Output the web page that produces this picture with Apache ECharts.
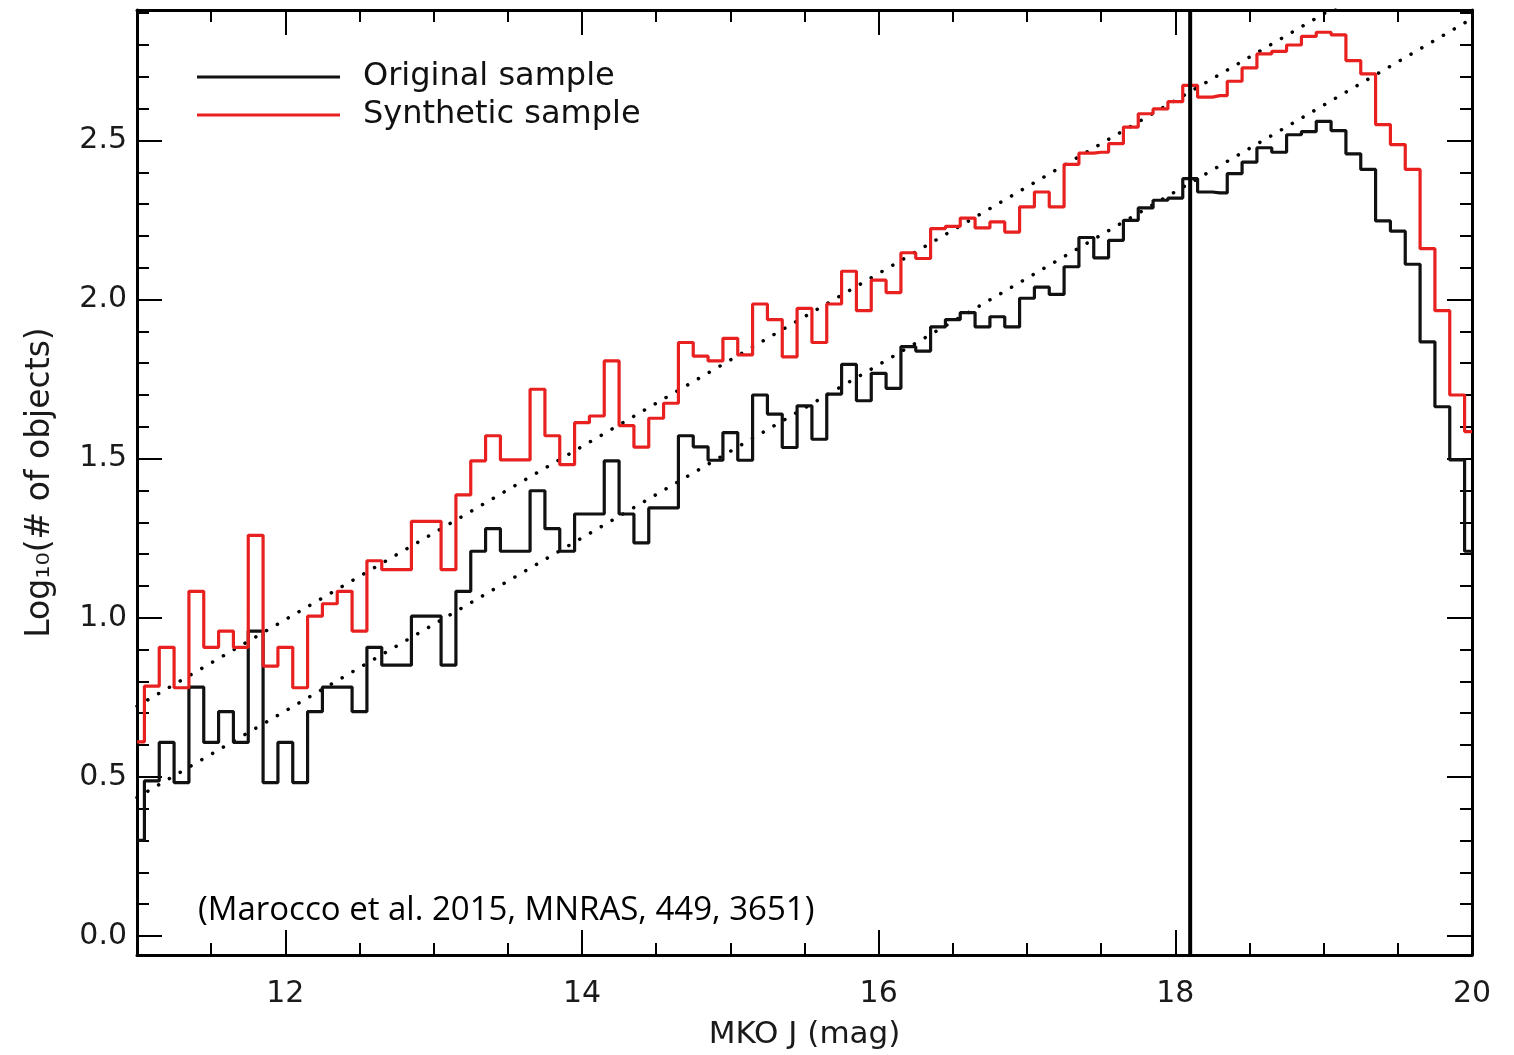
<!DOCTYPE html>
<html>
<head>
<meta charset="utf-8">
<script src="https://cdn.jsdelivr.net/npm/echarts@6/dist/echarts.min.js"></script>
<style>
html,body{margin:0;padding:0;background:#fff;}
#chart{width:1514px;height:1055px;}
</style>
</head>
<body>
<div id="chart"></div>
<script>
// ---- data ----
const binStart = 11.0;
const binWidth = 0.1;
const originalSample = [
  0.30, 0.487, 0.608, 0.482, 0.782, 0.608, 0.705, 0.608, 0.958, 0.482,
  0.608, 0.482, 0.705, 0.782, 0.782, 0.705, 0.907, 0.851, 0.851, 1.005,
  1.005, 0.851, 1.083, 1.209, 1.280, 1.209, 1.209, 1.399, 1.280, 1.209,
  1.326, 1.326, 1.493, 1.326, 1.235, 1.345, 1.345, 1.572, 1.537, 1.495,
  1.582, 1.495, 1.700, 1.640, 1.535, 1.666, 1.561, 1.703, 1.796, 1.682,
  1.768, 1.721, 1.852, 1.838, 1.914, 1.937, 1.959, 1.914, 1.946, 1.914,
  2.004, 2.039, 2.016, 2.103, 2.195, 2.131, 2.186, 2.249, 2.288, 2.312,
  2.319, 2.380, 2.338, 2.335, 2.396, 2.432, 2.477, 2.463, 2.518, 2.528,
  2.560, 2.531, 2.458, 2.409, 2.247, 2.215, 2.111, 1.867, 1.663, 1.496,
  1.209
];
const syntheticSample = [
  0.61, 0.785, 0.907, 0.780, 1.083, 0.907, 0.958, 0.907, 1.259, 0.848,
  0.907, 0.780, 1.005, 1.044, 1.083, 0.958, 1.179, 1.151, 1.151, 1.303,
  1.303, 1.151, 1.386, 1.493, 1.572, 1.496, 1.496, 1.718, 1.572, 1.481,
  1.613, 1.634, 1.807, 1.604, 1.536, 1.627, 1.674, 1.865, 1.822, 1.807,
  1.878, 1.826, 1.986, 1.937, 1.820, 1.972, 1.865, 1.986, 2.089, 1.965,
  2.061, 2.022, 2.147, 2.129, 2.223, 2.230, 2.256, 2.225, 2.244, 2.212,
  2.291, 2.338, 2.291, 2.425, 2.460, 2.463, 2.490, 2.542, 2.584, 2.599,
  2.622, 2.673, 2.636, 2.641, 2.686, 2.728, 2.772, 2.780, 2.800, 2.827,
  2.840, 2.832, 2.751, 2.709, 2.550, 2.487, 2.409, 2.160, 1.965, 1.700,
  1.585
];
const fitUpper = [[11, 0.722], [20, 3.17]];
const fitLower = [[11, 0.435], [20, 2.883]];
const cutoffMag = 18.1;
const xRange = [11, 20];
const yRange = [-0.06, 2.91];
const xMajorTicks = [12, 14, 16, 18, 20];
const xMinorTicks = [11.5, 12.5, 13, 13.5, 14.5, 15, 15.5, 16.5, 17, 17.5, 18.5, 19, 19.5];
const yMajorTicks = [0, 0.5, 1.0, 1.5, 2.0, 2.5];
const yMinorTicks = [0.1, 0.2, 0.3, 0.4, 0.6, 0.7, 0.8, 0.9, 1.1, 1.2, 1.3, 1.4,
  1.6, 1.7, 1.8, 1.9, 2.1, 2.2, 2.3, 2.4, 2.6, 2.7, 2.8, 2.9];
const legendNames = ['Original sample', 'Synthetic sample'];
const xTitle = 'MKO J (mag)';
const yTitle = 'Log\u2081\u2080(# of objects)';
const citation = '(Marocco et al. 2015, MNRAS, 449, 3651)';

// ---- build ----
const toPairs = arr => arr.map((v, i) => [+(binStart + i * binWidth).toFixed(2), v]);
const FONT = 'DejaVu Sans';
const AX = '#000';
const BLACK = '#111';
const RED = '#e8201f';

function xAxisDef(pos, ticks, len, showLine, showLabel, extra) {
  return Object.assign({
    type: 'value', min: xRange[0], max: xRange[1], position: pos,
    axisLine: { show: showLine, onZero: false, lineStyle: { color: AX, width: 3 } },
    axisTick: { show: true, inside: true, length: len, customValues: ticks, lineStyle: { color: AX, width: 2 } },
    axisLabel: { show: showLabel, customValues: ticks, margin: 24, color: '#1a1a1a', fontSize: 30, fontFamily: FONT },
    splitLine: { show: false }, minorTick: { show: false }
  }, extra || {});
}
function yAxisDef(pos, ticks, len, showLine, showLabel, extra) {
  return Object.assign({
    type: 'value', min: yRange[0], max: yRange[1], position: pos,
    axisLine: { show: showLine, onZero: false, lineStyle: { color: AX, width: 3 } },
    axisTick: { show: true, inside: true, length: len, customValues: ticks, lineStyle: { color: AX, width: 2 } },
    axisLabel: { show: showLabel, customValues: ticks, margin: 10, color: '#1a1a1a', fontSize: 30, fontFamily: FONT,
      formatter: v => Number(v).toFixed(1) },
    splitLine: { show: false }, minorTick: { show: false }
  }, extra || {});
}

const chart = echarts.init(document.getElementById('chart'), null, { renderer: 'canvas' });
chart.setOption({
  backgroundColor: '#fff',
  animation: false,
  title: {
    text: citation, left: 193, top: 889,
    textStyle: { fontFamily: 'Open Sans', fontSize: 33, fontWeight: 'normal', color: '#000' }
  },
  legend: {
    data: [
      { name: legendNames[0], icon: 'rect' },
      { name: legendNames[1], icon: 'rect' }
    ],
    orient: 'vertical', left: 197, top: 61,
    itemWidth: 143, itemHeight: 3, itemGap: 6, padding: 0,
    textStyle: { fontFamily: FONT, fontSize: 32, color: '#111', lineHeight: 32, height: 32, padding: [0, 0, 0, 18] }
  },
  grid: { left: 137, right: 42, top: 10, bottom: 98, containLabel: false },
  xAxis: [
    xAxisDef('bottom', xMajorTicks, 25, true, true, {
      name: xTitle, nameLocation: 'middle', nameGap: 64,
      nameTextStyle: { fontFamily: FONT, fontSize: 31, color: '#1a1a1a' }
    }),
    xAxisDef('bottom', xMinorTicks, 12, false, false),
    xAxisDef('top', xMajorTicks, 25, true, false),
    xAxisDef('top', xMinorTicks, 12, false, false)
  ],
  yAxis: [
    yAxisDef('left', yMajorTicks, 25, true, true, {
      name: yTitle, nameLocation: 'middle', nameGap: 80, nameRotate: 90,
      nameTextStyle: { fontFamily: FONT, fontSize: 33, color: '#1a1a1a' }
    }),
    yAxisDef('left', yMinorTicks, 12, false, false),
    yAxisDef('right', yMajorTicks, 25, true, false),
    yAxisDef('right', yMinorTicks, 12, false, false)
  ],
  series: [
    {
      name: 'fit-upper', type: 'line', data: fitUpper, symbol: 'none', silent: true,
      lineStyle: { color: '#000', width: 3.5, type: [0.1, 12.4], cap: 'round' }, z: 1
    },
    {
      name: 'fit-lower', type: 'line', data: fitLower, symbol: 'none', silent: true,
      lineStyle: { color: '#000', width: 3.5, type: [0.1, 12.4], cap: 'round' }, z: 1
    },
    {
      name: legendNames[0], type: 'line', step: 'middle', data: toPairs(originalSample),
      symbol: 'none', color: BLACK, itemStyle: { color: BLACK }, lineStyle: { color: BLACK, width: 3.2 }, z: 3
    },
    {
      name: legendNames[1], type: 'line', step: 'middle', data: toPairs(syntheticSample),
      symbol: 'none', color: RED, itemStyle: { color: RED }, lineStyle: { color: RED, width: 3.2 }, z: 3
    },
    {
      name: 'cutoff', type: 'line', data: [[cutoffMag, yRange[0]], [cutoffMag, yRange[1]]],
      symbol: 'none', silent: true, lineStyle: { color: '#000', width: 4 }, z: 4
    }
  ]
});
</script>
</body>
</html>
